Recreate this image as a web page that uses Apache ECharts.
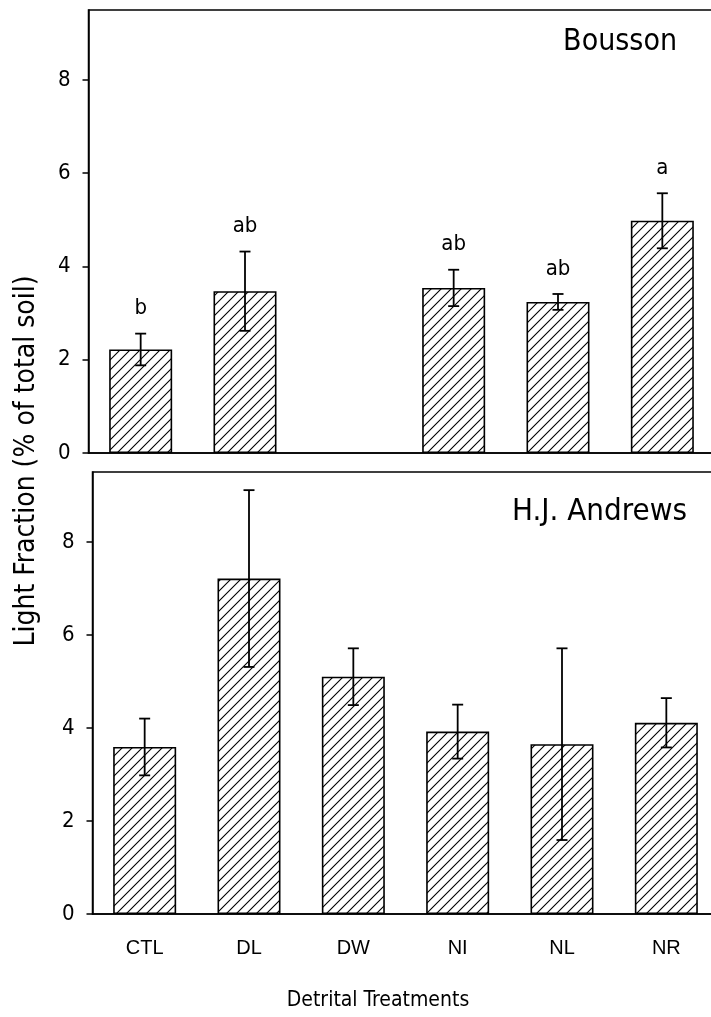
<!DOCTYPE html>
<html>
<head>
<meta charset="utf-8">
<script src="https://cdn.jsdelivr.net/npm/echarts@6/dist/echarts.min.js"></script>
<style>
html,body{margin:0;padding:0;background:#fff;}
#chart{width:711px;height:1017px;}
</style>
</head>
<body>
<div id="chart"></div>
<script>
const categories = ['CTL', 'DL', 'DW', 'NI', 'NL', 'NR'];
const boussonMean = [2.22, 3.47, null, 3.54, 3.24, 4.98];
const boussonErr = [0.34, 0.85, null, 0.39, 0.17, 0.59];
const boussonLetters = ['b', 'ab', '', 'ab', 'ab', 'a'];
const andrewsMean = [3.59, 7.21, 5.10, 3.92, 3.65, 4.11];
const andrewsErr = [0.61, 1.90, 0.61, 0.58, 2.06, 0.53];
const yTicks = [0, 2, 4, 6, 8];
const panelTitles = ['Bousson', 'H.J. Andrews'];
const yTitle = 'Light Fraction (% of total soil)';
const xTitle = 'Detrital Treatments';

const FONT = "'DejaVu Sans Condensed', 'DejaVu Sans', sans-serif";

// hatch pattern
const T = 10;
const tile = document.createElement('canvas');
tile.width = T; tile.height = T;
const tc = tile.getContext('2d');
tc.fillStyle = '#fff';
tc.fillRect(0, 0, T, T);
tc.strokeStyle = '#000';
tc.lineWidth = 1.1;
tc.beginPath();
tc.moveTo(-1, T + 1); tc.lineTo(T + 1, -1);
tc.moveTo(-1, 1); tc.lineTo(1, -1);
tc.moveTo(T - 1, T + 1); tc.lineTo(T + 1, T - 1);
tc.stroke();
const hatch = { image: tile, repeat: 'repeat' };

function errData(mean, err) {
  const out = [];
  mean.forEach((m, i) => {
    if (m != null && err[i] != null) out.push([i, m + err[i], m - err[i]]);
  });
  return out;
}
function letterData(mean, err, letters) {
  const out = [];
  mean.forEach((m, i) => {
    if (m != null && letters[i]) out.push([i, m + err[i], letters[i]]);
  });
  return out;
}

function errRender(params, api) {
  const top = api.coord([api.value(0), api.value(1)]);
  const bot = api.coord([api.value(0), api.value(2)]);
  const x = top[0];
  const hw = 5.5;
  const st = { stroke: '#000', lineWidth: 1.8 };
  return {
    type: 'group',
    children: [
      { type: 'line', shape: { x1: x, y1: top[1], x2: x, y2: bot[1] }, style: st },
      { type: 'line', shape: { x1: x - hw, y1: top[1], x2: x + hw, y2: top[1] }, style: st },
      { type: 'line', shape: { x1: x - hw, y1: bot[1], x2: x + hw, y2: bot[1] }, style: st }
    ]
  };
}
function letterRender(params, api) {
  const p = api.coord([api.value(0), api.value(1)]);
  return {
    type: 'text',
    style: {
      text: boussonLetters[api.value(0)],
      x: p[0], y: p[1] - 14,
      textAlign: 'center', textVerticalAlign: 'bottom',
      fontSize: 22, fontFamily: FONT, fill: '#000'
    }
  };
}

const chart = echarts.init(document.getElementById('chart'));

const yAxisBase = {
  type: 'value', min: 0, max: 9.5, interval: 2,
  axisLine: { show: true, lineStyle: { color: '#000', width: 1.5 } },
  axisTick: { show: true, length: 6, lineStyle: { color: '#000', width: 1.5 }, customValues: yTicks },
  axisLabel: { color: '#000', fontSize: 22, fontFamily: FONT, margin: 18, customValues: yTicks },
  splitLine: { show: false }
};
const xAxisBase = {
  type: 'category', data: categories,
  axisLine: { show: true, lineStyle: { color: '#000', width: 1.5 } },
  axisTick: { show: false },
  splitLine: { show: false }
};

chart.setOption({
  animation: false,
  backgroundColor: '#fff',
  grid: [
    { left: 88.5, top: 10, width: 626, height: 443, show: true, borderColor: '#000', borderWidth: 1.5, backgroundColor: 'transparent', outerBoundsMode: 'none', containLabel: false },
    { left: 92.5, top: 472, width: 626, height: 442, show: true, borderColor: '#000', borderWidth: 1.5, backgroundColor: 'transparent', outerBoundsMode: 'none', containLabel: false }
  ],
  xAxis: [
    Object.assign({}, xAxisBase, { gridIndex: 0, axisLabel: { show: false } }),
    Object.assign({}, xAxisBase, { gridIndex: 1, axisLabel: { color: '#000', fontSize: 20, fontFamily: "'Liberation Sans', Arial, sans-serif", margin: 24 } })
  ],
  yAxis: [
    Object.assign({}, yAxisBase, { gridIndex: 0 }),
    Object.assign({}, yAxisBase, { gridIndex: 1 })
  ],
  graphic: [
    { type: 'text', x: 677, y: 42, style: { text: panelTitles[0], textAlign: 'right', textVerticalAlign: 'middle', fontSize: 30, fontFamily: FONT, fill: '#000' } },
    { type: 'text', x: 687, y: 512, style: { text: panelTitles[1], textAlign: 'right', textVerticalAlign: 'middle', fontSize: 31, fontFamily: FONT, fill: '#000' } },
    { type: 'text', x: 27, y: 461, rotation: Math.PI / 2, style: { text: yTitle, textAlign: 'center', textVerticalAlign: 'middle', fontSize: 28, fontFamily: FONT, fill: '#000' } },
    { type: 'text', x: 378, y: 1001, style: { text: xTitle, textAlign: 'center', textVerticalAlign: 'middle', fontSize: 21, fontFamily: FONT, fill: '#000' } }
  ],
  series: [
    {
      type: 'bar', xAxisIndex: 0, yAxisIndex: 0, data: boussonMean, barWidth: 63,
      itemStyle: { color: hatch, borderColor: '#000', borderWidth: 1.6 }
    },
    {
      type: 'custom', xAxisIndex: 0, yAxisIndex: 0, data: errData(boussonMean, boussonErr),
      renderItem: errRender, encode: { x: 0, y: [1, 2] }, z: 5
    },
    {
      type: 'custom', xAxisIndex: 0, yAxisIndex: 0, data: letterData(boussonMean, boussonErr, boussonLetters),
      renderItem: letterRender, encode: { x: 0, y: 1 }, z: 5
    },
    {
      type: 'bar', xAxisIndex: 1, yAxisIndex: 1, data: andrewsMean, barWidth: 63,
      itemStyle: { color: hatch, borderColor: '#000', borderWidth: 1.6 }
    },
    {
      type: 'custom', xAxisIndex: 1, yAxisIndex: 1, data: errData(andrewsMean, andrewsErr),
      renderItem: errRender, encode: { x: 0, y: [1, 2] }, z: 5
    }
  ]
});
</script>
</body>
</html>
